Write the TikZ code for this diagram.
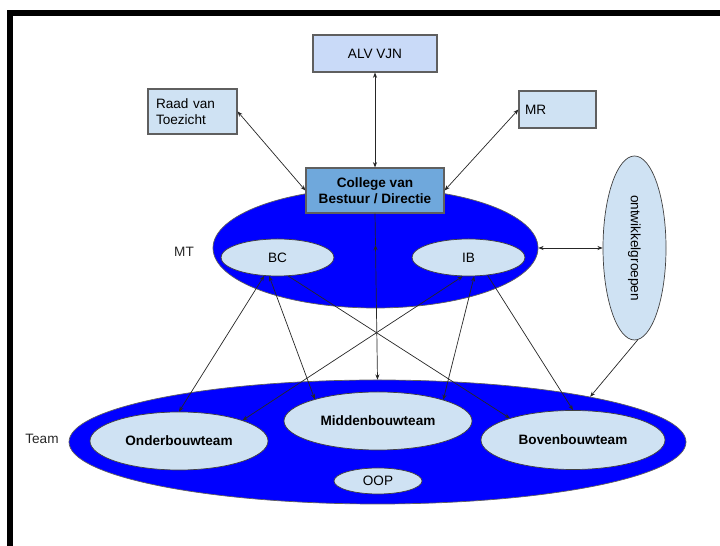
\documentclass[tikz,border=0pt]{standalone}
\usepackage{fontspec}
\usepackage{graphicx}
\setmainfont{Liberation Sans}
\usetikzlibrary{arrows.meta, shapes.geometric}
\definecolor{clav}{HTML}{C9DAF8}
\definecolor{clight}{HTML}{CFE2F3}
\definecolor{cmid}{HTML}{6FA8DC}
\definecolor{cdeep}{HTML}{0000FF}
\definecolor{cline}{HTML}{5F5F5F}
\newcommand{\orgfont}{\fontsize{11.6}{13.6}\selectfont}
\tikzset{
  every picture/.style={font=\orgfont, line width=0.6pt},
  box/.style={rectangle, draw=cline, fill=#1, line width=1pt, align=center},
  box/.default=clight,
  oval/.style={ellipse, draw=black!75, fill=#1, line width=0.6pt, inner sep=0pt},
  oval/.default=clight,
  arrow/.style={-{Stealth[length=4.5pt, width=3.5pt]}, draw=black!85, line width=0.6pt},
  both/.style={{Stealth[length=4.5pt, width=3.5pt]}-{Stealth[length=4.5pt, width=3.5pt]}, draw=black!85, line width=0.6pt},
  tag/.style={font=\orgfont, text=black!85},
}

\begin{document}
\begin{tikzpicture}
  \useasboundingbox (0,0) rectangle (21.6,16.38);
  % frame
  \fill (0.195,0) rectangle (0.375,16.08);
  \fill (0.195,15.9) rectangle (21.6,16.08);
  % top boxes
  \node[box=clav, minimum width=3.72cm, minimum height=1.11cm] (alv) at (11.25,14.775) {ALV VJN};
  \node[box, minimum width=2.67cm, minimum height=1.35cm, text width=2.19cm, inner xsep=0.24cm, align=left] (raad) at (5.775,13.035) {Raad van\\Toezicht};
  \node[box, minimum width=2.31cm, minimum height=1.11cm, text width=1.95cm, inner xsep=0.18cm, align=left] (mr) at (16.725,13.095) {MR};
  % MT
  \node[oval=cdeep, draw=cline, minimum width=9.75cm, minimum height=3.6cm] (mt) at (11.265,8.94) {};
  \node[box=cmid, minimum width=4.14cm, minimum height=1.35cm, font=\orgfont\bfseries] (college) at (11.25,10.665) {College van\\Bestuur / Directie};
  \node[oval, minimum width=3.39cm, minimum height=1.11cm] (bc) at (8.325,8.655) {BC};
  \node[oval, minimum width=3.39cm, minimum height=1.11cm] (ib) at (14.055,8.655) {IB};
  \node[oval, minimum width=1.89cm, minimum height=5.52cm] (ontw) at (19.035,8.94) {\rotatebox{-90}{ontwikkelgroepen}};
  \node[tag] (mtname) at (5.52,8.82) {MT};
  \coordinate (mtup) at (11.265,9.03);
  % Team
  \node[oval=cdeep, draw=cline, minimum width=18.51cm, minimum height=3.72cm] (team) at (11.325,3.12) {};
  \node[oval, minimum width=5.34cm, minimum height=1.74cm, font=\orgfont\bfseries] (onder) at (5.37,3.15) {Onderbouwteam};
  \node[oval, minimum width=5.64cm, minimum height=1.74cm, font=\orgfont\bfseries] (midden) at (11.34,3.75) {Middenbouwteam};
  \node[oval, minimum width=5.52cm, minimum height=1.77cm, font=\orgfont\bfseries] (boven) at (17.19,3.18) {Bovenbouwteam};
  \node[oval, minimum width=2.64cm, minimum height=0.78cm] (oop) at (11.34,1.95) {OOP};
  \node[tag] (teamname) at (1.26,3.21) {Team};
  % connectors
  \draw[both] (alv) -- (college);
  \draw[both] (raad.east) -- (college.west);
  \draw[both] (mr.west) -- (college.east);
  \draw[both] (mt.east) -- (ontw.west);
  \draw[arrow] (ontw.-88) -- (team.12);
  \draw[draw=black!85] (college.south) -- (mtup);
  \draw[both] (mtup) -- (team.north);
  \foreach \a/\b in {bc.234/onder.90, bc.246/midden.161, ib.253/onder.18, ib.287/midden.18}
    \draw[both] (\a) -- (\b);
  \foreach \a/\b in {bc.300/boven.161, ib.317/boven.90}
    \draw[arrow] (\a) -- (\b);
\end{tikzpicture}
\end{document}
